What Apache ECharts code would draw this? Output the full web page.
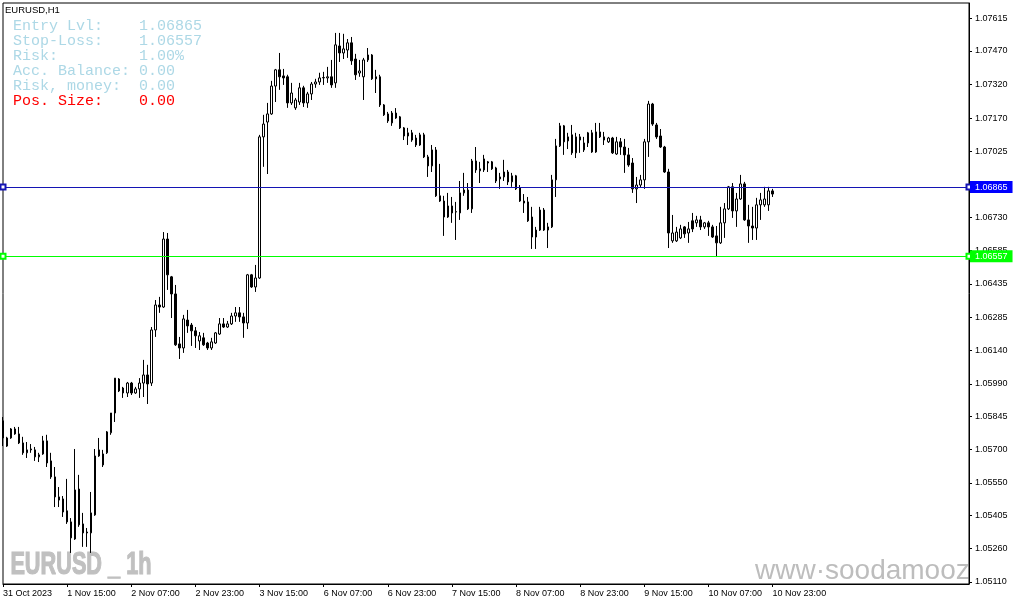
<!DOCTYPE html>
<html>
<head>
<meta charset="utf-8">
<script src="https://cdn.jsdelivr.net/npm/echarts@6/dist/echarts.min.js"></script>
<style>
html,body{margin:0;padding:0;background:#fff;}
#chart{width:1015px;height:605px;}
</style>
</head>
<body>
<div id="chart"></div>
<script>
// ---- DATA (EURUSD H1, 31 Oct 2023 23:00 .. 10 Nov 2023 23:00) ----
const opens = [
1.05826,1.05714,1.05750,1.05790,1.05768,1.05728,1.05684,1.05697,1.05697,1.05666,
1.05679,1.05737,1.05648,1.05577,1.05488,1.05479,1.05426,1.05377,1.05301,1.05523,
1.05368,1.05332,1.05328,1.05408,1.05670,1.05630,1.05684,1.05773,1.05861,1.06012,
1.05972,1.05950,1.05994,1.05950,1.05968,1.05994,1.06030,1.05994,1.06230,1.06341,
1.06332,1.06634,1.06466,1.06390,1.06168,1.06150,1.06274,1.06252,1.06226,1.06181,
1.06195,1.06172,1.06150,1.06172,1.06212,1.06257,1.06243,1.06257,1.06292,1.06306,
1.06288,1.06261,1.06475,1.06421,1.06461,1.07088,1.07154,1.07190,1.07314,1.07386,
1.07359,1.07355,1.07239,1.07217,1.07243,1.07306,1.07239,1.07279,1.07323,1.07332,
1.07350,1.07350,1.07355,1.07328,1.07492,1.07461,1.07474,1.07506,1.07434,1.07372,
1.07355,1.07430,1.07452,1.07355,1.07355,1.07230,1.07190,1.07150,1.07194,1.07177,
1.07128,1.07092,1.07106,1.07083,1.07052,1.07097,1.06999,1.06959,1.07030,1.06826,
1.06803,1.06732,1.06781,1.06754,1.06750,1.06839,1.06852,1.06768,1.06981,1.06937,
1.06941,1.06977,1.06977,1.06950,1.06901,1.06910,1.06932,1.06888,1.06915,1.06861,
1.06803,1.06799,1.06732,1.06643,1.06674,1.06763,1.06674,1.06688,1.06897,1.07048,
1.07137,1.07070,1.07097,1.07017,1.07088,1.07030,1.07061,1.07106,1.07021,1.07110,
1.07088,1.07066,1.07083,1.07012,1.07066,1.07043,1.07008,1.06972,1.06857,1.06874,
1.06897,1.07066,1.07234,1.07141,1.07092,1.07043,1.06932,1.06626,1.06626,1.06639,
1.06688,1.06661,1.06715,1.06706,1.06719,1.06688,1.06706,1.06688,1.06648,1.06617,
1.06706,1.06768,1.06866,1.06759,1.06812,1.06879,1.06719,1.06692,1.06683,1.06786,
1.06786,1.06786,1.06848
];
const highs = [
1.05843,1.05755,1.05794,1.05799,1.05799,1.05755,1.05732,1.05723,1.05710,1.05684,
1.05759,1.05764,1.05684,1.05621,1.05532,1.05492,1.05568,1.05394,1.05701,1.05586,
1.05417,1.05350,1.05510,1.05701,1.05750,1.05697,1.05781,1.05861,1.06016,1.06016,
1.05977,1.05999,1.05999,1.05977,1.06016,1.06097,1.06075,1.06243,1.06363,1.06377,
1.06665,1.06661,1.06470,1.06430,1.06199,1.06297,1.06319,1.06261,1.06243,1.06221,
1.06217,1.06177,1.06195,1.06221,1.06283,1.06283,1.06270,1.06306,1.06332,1.06332,
1.06306,1.06479,1.06479,1.06519,1.07097,1.07186,1.07239,1.07337,1.07390,1.07461,
1.07390,1.07364,1.07328,1.07261,1.07328,1.07315,1.07288,1.07332,1.07346,1.07373,
1.07377,1.07399,1.07430,1.07550,1.07550,1.07546,1.07523,1.07532,1.07457,1.07430,
1.07439,1.07483,1.07456,1.07386,1.07364,1.07234,1.07199,1.07203,1.07216,1.07181,
1.07132,1.07128,1.07119,1.07097,1.07106,1.07106,1.07008,1.07052,1.07043,1.06968,
1.06826,1.06839,1.06821,1.06799,1.06892,1.06928,1.06883,1.06990,1.07043,1.06977,
1.07008,1.06981,1.06981,1.06955,1.06928,1.06986,1.06941,1.06928,1.06919,1.06874,
1.06834,1.06821,1.06777,1.06688,1.06777,1.06772,1.06706,1.06919,1.07079,1.07150,
1.07141,1.07106,1.07141,1.07106,1.07101,1.07088,1.07110,1.07119,1.07150,1.07150,
1.07110,1.07088,1.07088,1.07088,1.07083,1.07079,1.07039,1.06994,1.06910,1.06919,
1.07079,1.07248,1.07239,1.07150,1.07123,1.07048,1.06946,1.06741,1.06688,1.06697,
1.06692,1.06710,1.06750,1.06737,1.06737,1.06710,1.06715,1.06697,1.06692,1.06777,
1.06794,1.06870,1.06883,1.06839,1.06919,1.06888,1.06786,1.06777,1.06817,1.06839,
1.06866,1.06866,1.06857
];
const lows = [
1.05714,1.05710,1.05746,1.05764,1.05723,1.05675,1.05661,1.05684,1.05648,1.05643,
1.05675,1.05621,1.05568,1.05443,1.05443,1.05399,1.05368,1.05239,1.05297,1.05355,
1.05266,1.05266,1.05239,1.05404,1.05666,1.05621,1.05679,1.05764,1.05821,1.05954,
1.05928,1.05932,1.05941,1.05946,1.05928,1.05932,1.05901,1.05981,1.06199,1.06306,
1.06328,1.06408,1.06283,1.06159,1.06101,1.06128,1.06217,1.06159,1.06150,1.06141,
1.06159,1.06141,1.06141,1.06168,1.06208,1.06239,1.06239,1.06252,1.06266,1.06266,
1.06195,1.06234,1.06417,1.06399,1.06457,1.06955,1.06923,1.07186,1.07243,1.07297,
1.07319,1.07217,1.07230,1.07208,1.07230,1.07221,1.07217,1.07252,1.07306,1.07319,
1.07319,1.07328,1.07306,1.07306,1.07421,1.07434,1.07439,1.07408,1.07341,1.07355,
1.07252,1.07421,1.07341,1.07283,1.07221,1.07181,1.07150,1.07137,1.07168,1.07123,
1.07074,1.07052,1.07066,1.07043,1.07048,1.06994,1.06910,1.06932,1.06821,1.06799,
1.06648,1.06728,1.06706,1.06630,1.06719,1.06826,1.06763,1.06750,1.06928,1.06883,
1.06932,1.06932,1.06941,1.06883,1.06857,1.06892,1.06874,1.06866,1.06852,1.06799,
1.06750,1.06710,1.06590,1.06590,1.06670,1.06670,1.06594,1.06683,1.06821,1.07043,
1.07008,1.07034,1.07008,1.06994,1.07017,1.07021,1.07043,1.07017,1.07017,1.07083,
1.07052,1.07061,1.07012,1.07008,1.07008,1.06928,1.06955,1.06839,1.06794,1.06861,
1.06857,1.06999,1.07137,1.07079,1.07039,1.06928,1.06594,1.06617,1.06621,1.06634,
1.06639,1.06617,1.06665,1.06688,1.06674,1.06679,1.06648,1.06639,1.06554,1.06612,
1.06639,1.06763,1.06728,1.06688,1.06808,1.06715,1.06617,1.06630,1.06630,1.06719,
1.06777,1.06759,1.06821
];
const closes = [
1.05750,1.05750,1.05790,1.05768,1.05728,1.05684,1.05697,1.05701,1.05666,1.05675,
1.05737,1.05639,1.05577,1.05488,1.05474,1.05421,1.05377,1.05306,1.05519,1.05364,
1.05328,1.05328,1.05417,1.05670,1.05697,1.05679,1.05777,1.05861,1.06016,1.05959,
1.05950,1.05994,1.05950,1.05968,1.05994,1.06030,1.05990,1.06230,1.06341,1.06332,
1.06634,1.06475,1.06390,1.06164,1.06150,1.06279,1.06248,1.06226,1.06204,1.06204,
1.06164,1.06150,1.06177,1.06217,1.06257,1.06243,1.06257,1.06292,1.06306,1.06288,
1.06261,1.06475,1.06421,1.06461,1.07088,1.07145,1.07190,1.07314,1.07386,1.07355,
1.07350,1.07239,1.07283,1.07252,1.07306,1.07239,1.07279,1.07323,1.07332,1.07350,
1.07352,1.07355,1.07319,1.07497,1.07461,1.07479,1.07506,1.07426,1.07364,1.07381,
1.07430,1.07452,1.07346,1.07346,1.07230,1.07186,1.07159,1.07194,1.07172,1.07128,
1.07092,1.07106,1.07074,1.07052,1.07097,1.06999,1.06959,1.07030,1.06826,1.06803,
1.06732,1.06781,1.06750,1.06756,1.06839,1.06852,1.06768,1.06981,1.06941,1.06946,
1.06990,1.06972,1.06946,1.06892,1.06910,1.06932,1.06888,1.06915,1.06857,1.06803,
1.06794,1.06715,1.06643,1.06674,1.06763,1.06674,1.06688,1.06897,1.07048,1.07137,
1.07066,1.07088,1.07017,1.07088,1.07074,1.07061,1.07106,1.07021,1.07110,1.07088,
1.07074,1.07083,1.07017,1.07066,1.07043,1.07008,1.06963,1.06857,1.06874,1.06897,
1.07066,1.07234,1.07145,1.07088,1.07043,1.06932,1.06661,1.06661,1.06665,1.06679,
1.06657,1.06679,1.06679,1.06719,1.06688,1.06706,1.06688,1.06643,1.06617,1.06706,
1.06768,1.06866,1.06759,1.06812,1.06879,1.06719,1.06692,1.06683,1.06786,1.06808,
1.06812,1.06848,1.06834
];
// x-axis tick labels, one every 16 bars
const xTickLabels = ['31 Oct 2023','1 Nov 15:00','2 Nov 07:00','2 Nov 23:00','3 Nov 15:00',
  '6 Nov 07:00','6 Nov 23:00','7 Nov 15:00','8 Nov 07:00','8 Nov 23:00','9 Nov 15:00',
  '10 Nov 07:00','10 Nov 23:00'];
const yTickLabels = [1.07615,1.07470,1.07320,1.07170,1.07025,1.06875,1.06730,1.06585,
  1.06435,1.06285,1.06140,1.05990,1.05845,1.05700,1.05550,1.05405,1.05260,1.05110];
const entryLevel = 1.06865;
const stopLoss = 1.06557;
const panelLabels = ['Entry Lvl:', 'Stop-Loss:', 'Risk:', 'Acc. Balance:', 'Risk, money:', 'Pos. Size:'];
const panelValues = [entryLevel.toFixed(5), stopLoss.toFixed(5), '1.00%', '0.00', '0.00', '0.00'];

// ---- CHART ----
const SLOTS = 242;        // visible bar slots (data + empty space on the right)
const LABEL_STEP = 16;
const cats = Array.from({length: SLOTS}, (_, i) => String(i));
const candleData = opens.map((o, i) => [o, closes[i], lows[i], highs[i]]);
const showTick = (idx) => idx % LABEL_STEP === 0 && idx / LABEL_STEP < xTickLabels.length;

const chart = echarts.init(document.getElementById('chart'), null, {renderer: 'canvas'});
const axisFont = 'Liberation Sans';

const graphics = [
  {type: 'text', x: 5, y: 10, z: 10, style: {text: 'EURUSD,H1', fill: '#000', font: '9.5px "Liberation Sans"', textVerticalAlign: 'middle'}},
  {type: 'text', x: 8, y: 565, z: -5, scaleX: 0.7, originX: 8, originY: 565,
    style: {text: 'EURUSD _ 1h', fill: '#C0C0C0', stroke: '#C0C0C0', lineWidth: 1.2, font: 'bold 31px "Liberation Sans"', textVerticalAlign: 'middle'}},
  {type: 'text', x: 755, y: 571, z: -5,
    style: {text: 'www\u00B7soodamooz', fill: '#BDBDBD', font: '28px "Liberation Sans"', textVerticalAlign: 'middle'}}
];
panelLabels.forEach((lab, i) => {
  graphics.push({type: 'text', x: 13, y: 26 + i * 15, z: 10,
    style: {text: lab.padEnd(14, ' ') + panelValues[i], fill: i === 5 ? '#FF0000' : '#ADD8E6',
      font: '15px "Liberation Mono"', textVerticalAlign: 'middle'}});
});

const mkLabel = (bg) => ({show: true, position: 'end', distance: 1, formatter: (p) => Number(p.value).toFixed(5),
  color: '#fff', backgroundColor: bg, padding: [2, 5, 1, 5], fontSize: 9, fontFamily: axisFont});

const option = {
  animation: false,
  backgroundColor: '#fff',
  grid: {left: 3, right: 46, top: 3, bottom: 21, show: true, borderColor: '#000', borderWidth: 1, backgroundColor: 'transparent'},
  xAxis: {
    type: 'category', data: cats, boundaryGap: false,
    axisLine: {show: true, lineStyle: {color: '#000', width: 1}},
    axisTick: {show: true, length: 3, interval: (idx) => showTick(idx), lineStyle: {color: '#000'}},
    axisLabel: {interval: (idx) => showTick(idx), formatter: (v) => xTickLabels[Number(v) / LABEL_STEP] || '',
      align: 'left', margin: 5, fontSize: 9, fontFamily: axisFont, color: '#000'},
    splitLine: {show: false}
  },
  yAxis: {
    type: 'value', position: 'right', scale: true, min: 1.05101, max: 1.07683,
    axisLine: {show: true, lineStyle: {color: '#000', width: 1}},
    axisTick: {show: true, length: 3, inside: false, customValues: yTickLabels, lineStyle: {color: '#000'}},
    axisLabel: {customValues: yTickLabels, formatter: (v) => v.toFixed(5), margin: 6, fontSize: 9, fontFamily: axisFont, color: '#000'},
    splitLine: {show: false}
  },
  graphic: graphics,
  series: [{
    type: 'candlestick',
    data: candleData,
    barWidth: 2,
    clip: true,
    itemStyle: {color: '#ffffff', color0: '#000000', borderColor: '#000000', borderColor0: '#000000', borderWidth: 1}
  }, {
    type: 'line',
    name: 'levels',
    data: [],
    silent: true,
    z: 5,
    markLine: {
      silent: true, animation: false, precision: 5,
      symbol: ['emptyRect', 'emptyRect'], symbolSize: 5,
      data: [
        {name: 'entry', yAxis: entryLevel, lineStyle: {color: '#1414b4', width: 1, type: 'solid'}, label: mkLabel('#0000FF')},
        {name: 'stop', yAxis: stopLoss, lineStyle: {color: '#00FF00', width: 1, type: 'solid'}, label: mkLabel('#00FF00')}
      ]
    }
  }]
};
chart.setOption(option);
</script>
</body>
</html>
